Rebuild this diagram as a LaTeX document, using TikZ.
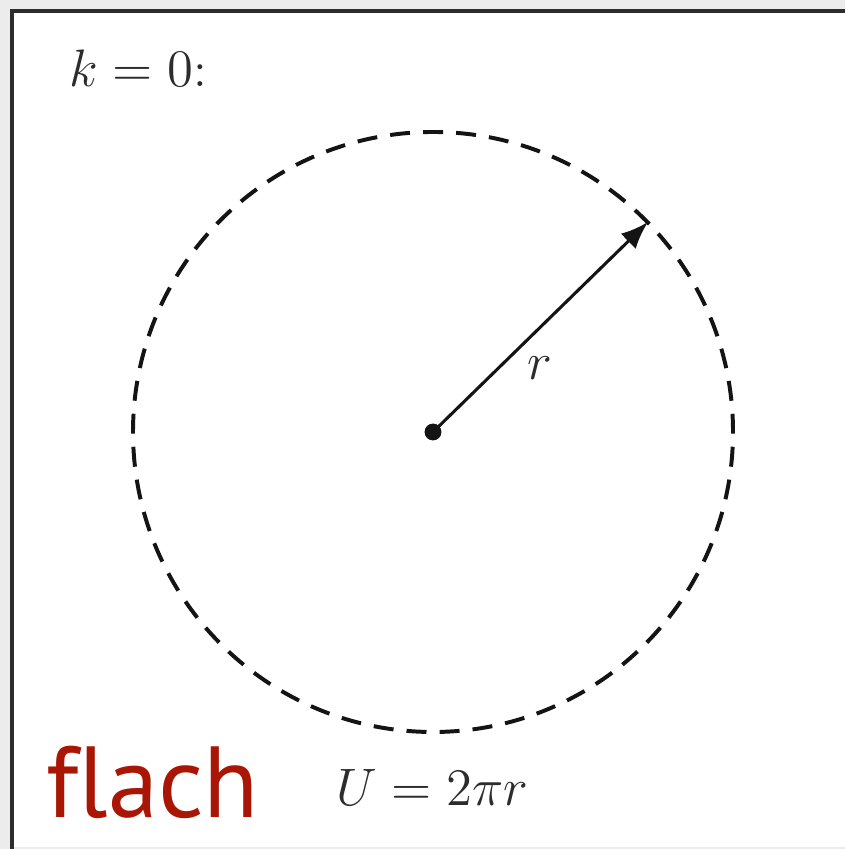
\documentclass[tikz,border=0pt]{standalone}
\usepackage{fontspec}
\usepackage{tikz}
\usetikzlibrary{arrows.meta}
\newfontfamily\flachfont[Ligatures=NoCommon]{PT Sans}
\definecolor{ink}{RGB}{20,20,20}
\definecolor{frame}{RGB}{45,45,45}
\definecolor{rim}{RGB}{236,236,236}
\definecolor{flachred}{RGB}{170,22,5}

\begin{document}
\begin{tikzpicture}[x=0.08mm,y=0.08mm,
  lbl/.style={text=ink!90,font=\fontsize{11.5}{14}\selectfont,inner sep=0pt},
  dot/.style={circle,fill=ink,inner sep=0pt,minimum size=1.35mm},
  every path/.style={line width=0.7pt}]
\useasboundingbox (0,0) rectangle (845,849);
\fill[rim] (0,0) rectangle (845,849);
\fill[white] (14,2) rectangle (845,837);
\draw[frame,line width=0.95pt] (12,0) -- (12,838) -- (845,838);
\node[dot] (o) at (433,417) {};
\coordinate (tip) at (648,627);
\draw[ink,line width=0.9pt,dash pattern=on 1.6mm off 1.046mm,dash phase=0.144mm]
  (o.center) circle[radius=300];
\draw[ink,-{Latex[length=2.2mm,width=1.7mm]}] (o.center) -- (tip);
\node[lbl] (r) at (540,481) {$r$};
\node[lbl,anchor=base west] (k) at (68,762) {$k=0$:};
\node[lbl,anchor=base west] (U) at (335,43) {$U=2\pi r$};
\node[anchor=base west,inner sep=0pt,text=flachred,
  font=\flachfont\fontsize{23}{26}\selectfont] (flach) at (45,31) {flach};
\end{tikzpicture}
\end{document}
